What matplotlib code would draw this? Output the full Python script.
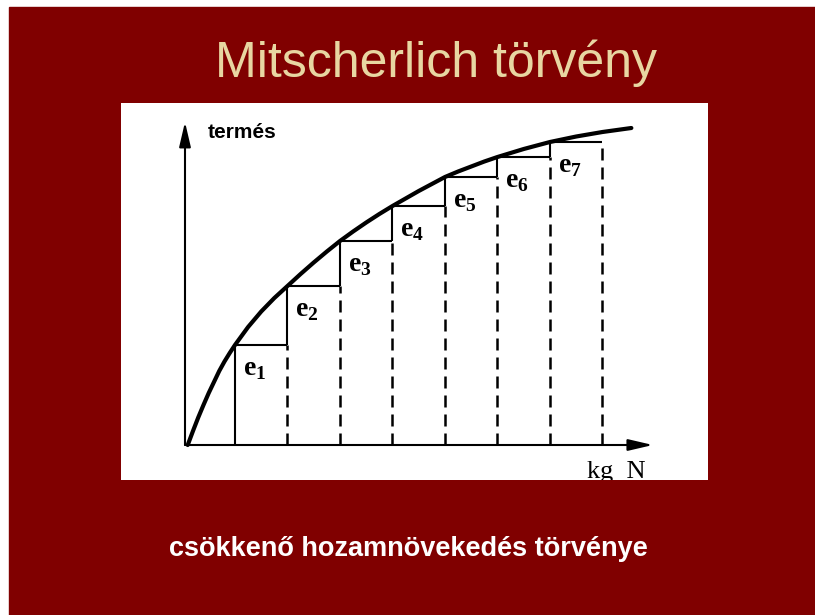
#!/usr/bin/env python
"""Mitscherlich törvény: diminishing returns curve with yield increments e1..e7."""
import matplotlib

matplotlib.use("Agg")
import matplotlib.pyplot as plt
from matplotlib.patches import Rectangle

MAROON = "#800000"
BEIGE = "#E8D6A2"

plt.rcParams["mathtext.fontset"] = "custom"
plt.rcParams["mathtext.rm"] = "Liberation Serif"
plt.rcParams["mathtext.bf"] = "Liberation Serif:bold"

# (dose in equal N steps, yield in arbitrary units)
step_dose = [1, 2, 3, 4, 5, 6, 7]
step_yield = [100, 159, 204, 239, 268, 288, 303]
step_labels = ["1", "2", "3", "4", "5", "6", "7"]

curve_dose = [0.1, 0.2, 0.3, 0.4, 0.5, 0.6, 0.7, 0.8, 0.9, 1.0,
              1.25, 1.5, 1.75, 2.0, 2.25, 2.5, 2.75, 3.0, 3.25, 3.5, 3.75,
              4.0, 4.25, 4.5, 4.75, 5.0, 5.25, 5.5, 5.75, 6.0, 6.5, 7.0,
              7.5, 8.0, 8.55]
curve_yield = [0, 14, 27.5, 40, 52, 63, 74, 83.5, 92, 100,
               118, 133.5, 147, 159, 171, 182.5, 193.5, 204, 213.5, 222.5, 231,
               239, 246.5, 254, 261, 268, 273.5, 278.5, 283.5, 288, 296, 303,
               308.5, 313, 317]

W, H = 815, 615
fig = plt.figure(figsize=(W / 100, H / 100), dpi=100, facecolor="white")
fig.patches.append(Rectangle((9 / W, 0), (W - 9) / W, (H - 7) / H,
                             transform=fig.transFigure, color=MAROON, zorder=-10))

fig.text(436 / W, 1 - 77 / H, "Mitscherlich törvény", ha="center", va="baseline",
         color=BEIGE, fontsize=36, family="Liberation Sans")
fig.text(408 / W, 1 - 556 / H, "csökkenő hozamnövekedés törvénye", ha="center",
         va="baseline", color="white", fontsize=19.5, fontweight="bold",
         family="Liberation Sans")

# white panel holding the diagram
ax = fig.add_axes([121 / W, 1 - 480 / H, 587 / W, 377 / H])
ax.set_zorder(1)
ax.set_facecolor("white")
ax.set_xlim(-1.171, 10.01)
ax.set_ylim(-35, 342)
ax.set_xticks([])
ax.set_yticks([])
for s in ax.spines.values():
    s.set_visible(False)

# axes with arrows
arrow = dict(arrowstyle="-|>,head_length=1.5,head_width=0.35", color="black",
             lw=1.5, shrinkA=0, shrinkB=0, mutation_scale=10)
ax.annotate("", xy=(0.048, 323), xytext=(0.048, 0), arrowprops=arrow)
ax.annotate("", xy=(8.96, 0), xytext=(0.048, 0), arrowprops=arrow)

# steps
prev = 0
for i, (x, y) in enumerate(zip(step_dose, step_yield)):
    if i > 0:
        ax.plot([x, x], [0, prev], color="black", lw=1.8, dashes=(4.8, 2.8))
    ax.plot([x, x], [prev, y], color="black", lw=1.5, solid_capstyle="butt")
    ax.plot([x, x + 1], [y, y], color="black", lw=1.5, solid_capstyle="butt")
    ax.text(x + 0.15, y - 30, r"$\mathbf{e}_{\mathbf{%s}}$" % step_labels[i],
            ha="left", va="baseline", fontsize=20, color="black")
    prev = y
ax.plot([step_dose[-1] + 1] * 2, [0, prev], color="black", lw=1.8, dashes=(4.8, 2.8))

ax.plot(curve_dose, curve_yield, color="black", lw=3, solid_capstyle="round",
        solid_joinstyle="round", zorder=5)

ax.text(0.49, 307, "termés", ha="left", va="baseline", fontsize=15,
        fontweight="bold", family="Liberation Sans")
ax.text(7.70, -33, "kg  N", ha="left", va="baseline", fontsize=19,
        family="Liberation Serif", clip_on=True)

fig.savefig("out.png", dpi=100, facecolor="white")
